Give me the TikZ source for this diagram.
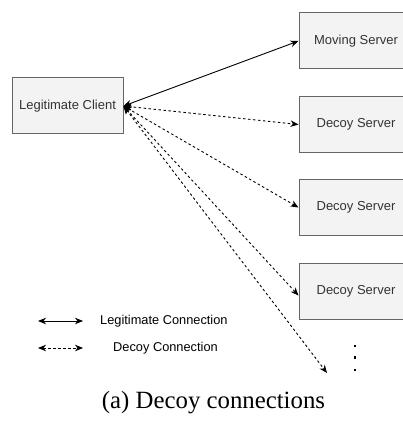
\documentclass[tikz,border=0pt]{standalone}
\usepackage{fontspec}
\setmainfont{Liberation Serif}
\newfontfamily\labelfont{Liberation Sans}
\usetikzlibrary{arrows.meta}
\definecolor{boxfill}{HTML}{F3F3F3}
\definecolor{boxline}{HTML}{666666}
\definecolor{labeltext}{HTML}{333333}
\tikzset{
  box/.style={draw=boxline, fill=boxfill, line width=1pt, inner sep=0pt,
    minimum height=56pt, font=\labelfont\fontsize{13}{15}\selectfont, text=labeltext},
  server/.style={box, minimum width=114pt},
  conn/.style={line width=0.9pt, {Stealth[length=8pt,width=6.5pt,inset=2.5pt]}-{Stealth[length=8pt,width=6.5pt,inset=2.5pt]}},
  decoy/.style={conn, dash pattern=on 2.5pt off 2.5pt},
  legtext/.style={anchor=west, inner sep=0pt, font=\labelfont\fontsize{12.8}{15}\selectfont, text=black},
  dotmark/.style={fill=black, inner sep=0pt, minimum size=2.6pt, rectangle}
}
\begin{document}
\begin{tikzpicture}[x=1pt, y=-1pt]
\useasboundingbox (0,0) rectangle (403,422);
\node[box, minimum width=111pt] (client) at (67.5,106) {Legitimate Client};
\node[server] (ms) at (356,41) {Moving Server};
\node[server] (d1) at (356,124.5) {Decoy Server};
\node[server] (d2) at (356,207.5) {Decoy Server};
\node[server] (d3) at (356,291.5) {Decoy Server};
\coordinate (more) at (327,373);
\node[dotmark] (dot1) at (355,346) {};
\node[dotmark] (dot2) at (355,357.5) {};
\node[dotmark] (dot3) at (355,370) {};
\draw[conn] (client.east) -- (ms.west);
\draw[decoy] (client.east) -- (d1.west);
\draw[decoy] (client.east) -- (d2.west);
\draw[decoy] ([yshift=0pt]client.east) -- ([yshift=-4pt]d3.west);
\draw[decoy] (client.east) -- (more);
% legend
\coordinate (la1) at (38,321);
\coordinate (lb1) at (83,321);
\coordinate (la2) at (38,348);
\coordinate (lb2) at (83,348);
\draw[conn] (la1) -- (lb1);
\draw[decoy] (la2) -- (lb2);
\node[legtext] (lt1) at (100,321) {Legitimate Connection};
\node[legtext] (lt2) at (113,348) {Decoy Connection};
\node[font=\fontsize{24.8}{28}\selectfont, inner sep=0pt] (cap) at (213.5,403) {(a) Decoy connections};
\end{tikzpicture}
\end{document}
